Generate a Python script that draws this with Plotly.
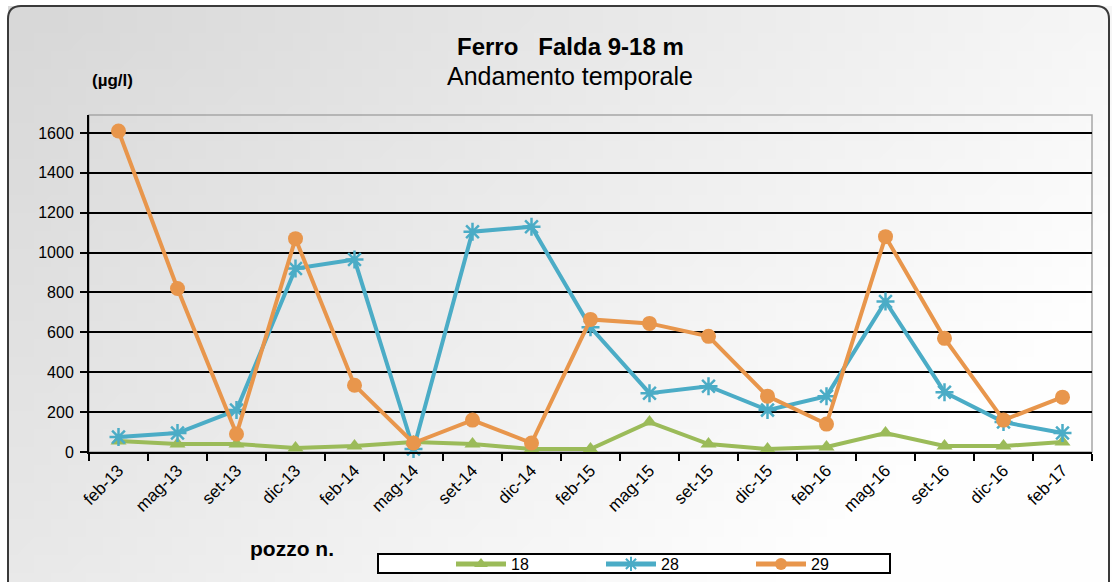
import base64
import struct
import zlib

import plotly.graph_objects as go

# ---------------- data ----------------
categories = ["feb-13", "mag-13", "set-13", "dic-13", "feb-14", "mag-14", "set-14", "dic-14",
              "feb-15", "mag-15", "set-15", "dic-15", "feb-16", "mag-16", "set-16", "dic-16", "feb-17"]

pozzo_18 = [55, 40, 40, 20, 30, 50, 40, 15, 15, 150, 40, 15, 25, 95, 30, 30, 50]
pozzo_28 = [75, 95, 210, 920, 965, 15, 1105, 1130, 625, 295, 330, 210, 280, 755, 300, 150, 95]
pozzo_29 = [1610, 820, 90, 1070, 335, 45, 160, 45, 665, 645, 580, 280, 140, 1080, 570, 160, 275]

y_ticks = [0, 200, 400, 600, 800, 1000, 1200, 1400, 1600]

series_names = ["18", "28", "29"]
series_colors = ["#9BBB59", "#4BACC6", "#E8964C"]

# ---------------- geometry ----------------
W, H = 1112, 582
PL, PR, PT, PB = 89, 1092, 115, 452  # plot area in pixels


def px_x(px):
    return (px - PL) / (PR - PL)


def px_y(py):
    return (PB - py) / (PB - PT)


# ---------------- background gradient image ----------------
def gradient_png(w, h):
    rows = []
    for j in range(h):
        row = bytearray([0])
        for i in range(w):
            t = min(1.0, 0.8 * i / (w - 1) + 0.45 * j / (h - 1))
            c = int(216 + 38 * t)
            row += bytes([c, c, c])
        rows.append(bytes(row))
    raw = b"".join(rows)

    def chunk(tag, data):
        return (struct.pack(">I", len(data)) + tag + data +
                struct.pack(">I", zlib.crc32(tag + data) & 0xFFFFFFFF))

    png = b"\x89PNG\r\n\x1a\n"
    png += chunk(b"IHDR", struct.pack(">IIBBBBB", w, h, 8, 2, 0, 0, 0))
    png += chunk(b"IDAT", zlib.compress(raw, 9))
    png += chunk(b"IEND", b"")
    return "data:image/png;base64," + base64.b64encode(png).decode()


FONT = "Liberation Sans, Arial, sans-serif"

fig = go.Figure()

symbols = ["triangle-up", "asterisk-open", "circle"]
msizes = [14, 15, 15]
for name, vals, col, sym, ms in zip(series_names, [pozzo_18, pozzo_28, pozzo_29],
                                    series_colors, symbols, msizes):
    fig.add_trace(go.Scatter(
        x=categories, y=vals, name=name, mode="lines+markers",
        line=dict(color=col, width=4),
        marker=dict(symbol=sym, size=ms, color=col,
                    line=dict(color=col, width=2.5 if sym == "asterisk-open" else 0)),
        cliponaxis=False,
    ))

fig.update_layout(
    width=W, height=H,
    margin=dict(l=PL, r=W - PR, t=PT, b=H - PB, autoexpand=False),
    paper_bgcolor="white",
    plot_bgcolor="white",
    font=dict(family=FONT, color="black", size=15),
    showlegend=True,
    legend=dict(
        orientation="h", xref="container", yref="container",
        x=451 / W, y=1 - 564 / H, xanchor="left", yanchor="middle",
        bgcolor="rgba(0,0,0,0)", borderwidth=0,
        font=dict(family=FONT, size=16, color="black"),
        entrywidth=85, entrywidthmode="pixels", itemwidth=50,
        itemsizing="constant",
        traceorder="normal",
    ),
    xaxis=dict(
        type="category", categoryorder="array", categoryarray=categories,
        range=[-0.5, len(categories) - 0.5],
        tickangle=-45, ticks="outside", tickson="boundaries", ticklen=7,
        tickwidth=1.5, tickcolor="black",
        showline=True, linecolor="black", linewidth=2,
        showgrid=False, zeroline=False,
        tickfont=dict(family=FONT, size=17, color="black"),
    ),
    yaxis=dict(
        range=[0, 1690], tickvals=y_ticks, ticktext=[str(v) for v in y_ticks],
        ticks="outside", ticklen=7, tickwidth=1.5, tickcolor="black",
        showline=True, linecolor="black", linewidth=2,
        showgrid=True, gridcolor="black", gridwidth=1.6, zeroline=False,
        tickfont=dict(family=FONT, size=16, color="black"),
        ticklabelstandoff=3,
    ),
    images=[dict(
        source=gradient_png(64, 32), xref="paper", yref="paper",
        x=px_x(8), y=px_y(6), sizex=px_x(1112) - px_x(8), sizey=px_y(6) - px_y(582),
        xanchor="left", yanchor="top", sizing="stretch", layer="below",
    )],
)

# rounded frame
r = 13
x0, y0, x1, y1 = px_x(8), px_y(6), px_x(1109), px_y(595)
rx = r / (PR - PL)
ry = r / (PB - PT)
path = (f"M {x0} {y0 - ry} L {x0} {y1 + ry} Q {x0} {y1} {x0 + rx} {y1} "
        f"L {x1 - rx} {y1} Q {x1} {y1} {x1} {y1 + ry} L {x1} {y0 - ry} "
        f"Q {x1} {y0} {x1 - rx} {y0} L {x0 + rx} {y0} Q {x0} {y0} {x0} {y0 - ry} Z")
fig.add_shape(type="path", path=path, xref="paper", yref="paper",
              line=dict(color="#3a3a3a", width=2), layer="below")

# plot area border (top / right light gray)
fig.add_shape(type="rect", xref="paper", yref="paper", x0=0, y0=0, x1=1, y1=1,
              line=dict(color="#a6a6a6", width=1.5), layer="below")

# legend box
fig.add_shape(type="rect", xref="paper", yref="paper",
              x0=px_x(378), x1=px_x(890), y0=px_y(573), y1=px_y(554),
              line=dict(color="black", width=2), fillcolor="white", layer="below")

# texts
def label(text, px, py, size):
    fig.add_annotation(text=text, xref="paper", yref="paper",
                       x=px_x(px), y=px_y(py), xanchor="center", yanchor="middle",
                       showarrow=False, font=dict(family=FONT, size=size, color="black"))


label("<b>Ferro\u00a0\u00a0\u00a0Falda 9-18 m</b>", 570, 47, 24)
label("Andamento temporale", 570, 76, 25)
label("<b>(µg/l)</b>", 112, 80, 17)
label("<b>pozzo n.</b>", 292, 548, 21)

fig.write_html("out.html", post_script="document.body.style.margin='0';",
               config={"displayModeBar": False})
